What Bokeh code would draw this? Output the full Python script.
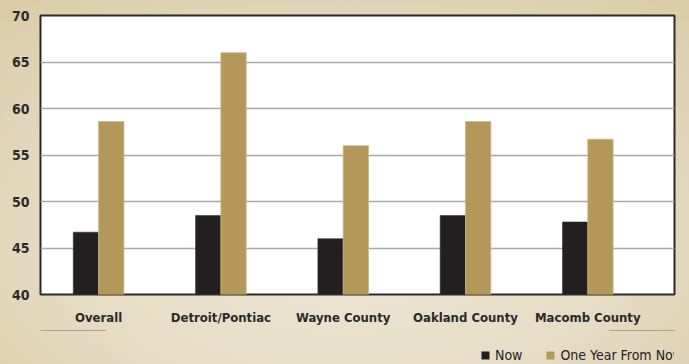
from bokeh.plotting import figure
from bokeh.layouts import column
from bokeh.models import (ColumnDataSource, Range1d, FixedTicker, Legend, LegendItem)
from bokeh.transform import dodge
from bokeh.embed import file_html
from bokeh.resources import INLINE

# Survey index by area: now vs. expected one year from now
categories = ["Overall", "Detroit/Pontiac", "Wayne County", "Oakland County", "Macomb County"]
now = [46.7, 48.5, 46.0, 48.5, 47.8]
one_year = [58.6, 66.0, 56.0, 58.6, 56.7]
y_ticks = [40, 45, 50, 55, 60, 65, 70]
series_names = ["Now", "One Year From Now"]

FONT = "DejaVu Sans Condensed"
BLACK = "#231f20"
GOLD = "#b4985a"

positions = list(range(len(categories)))
source = ColumnDataSource(dict(pos=positions, now=now, one_year=one_year))

# main chart: fixed plot area inside a 689 x 330 canvas
p = figure(
    frame_width=634, frame_height=279,
    x_range=Range1d(-0.475, 4.709), y_range=Range1d(40, 70),
    output_backend="svg", toolbar_location=None,
    min_border_left=40, min_border_right=15, min_border_top=15, min_border_bottom=36,
)
p.border_fill_color = None
p.background_fill_color = "white"
p.outline_line_color = "#2a2a2a"
p.outline_line_width = 2

bw = 0.207
p.vbar(x=dodge("pos", -bw / 2, range=p.x_range), top="now", bottom=40, width=bw,
       source=source, fill_color=BLACK, line_color="#3a3637", line_width=0.6)
p.vbar(x=dodge("pos", bw / 2, range=p.x_range), top="one_year", bottom=40, width=bw,
       source=source, fill_color=GOLD, line_color="#cdb681", line_width=0.8)

# axes
p.xaxis.ticker = FixedTicker(ticks=positions)
p.xaxis.major_label_overrides = {i: c for i, c in enumerate(categories)}
p.yaxis.ticker = FixedTicker(ticks=y_ticks)
for ax in (p.xaxis[0], p.yaxis[0]):
    ax.axis_line_color = None
    ax.major_tick_line_color = None
    ax.minor_tick_line_color = None
    ax.major_tick_out = 0
    ax.major_tick_in = 0
    ax.major_label_text_font = FONT
    ax.major_label_text_font_style = "bold"
    ax.major_label_text_color = "#2b2929"
p.xaxis.major_label_text_font_size = "13px"
p.xaxis.major_label_standoff = 15
p.yaxis.major_label_text_font_size = "14px"
p.yaxis.major_label_standoff = 11

p.xgrid.grid_line_color = None
p.ygrid.ticker = FixedTicker(ticks=y_ticks)
p.ygrid.grid_line_color = "#a9a9a9"
p.ygrid.grid_line_width = 1.5

# legend strip underneath the chart (its plot area lines up with the chart's)
lf = figure(
    width=689, height=34, x_range=Range1d(0, 1), y_range=Range1d(0, 1),
    output_backend="svg", toolbar_location=None, min_border=0,
    x_axis_location=None, y_axis_location=None,
)
lf.grid.visible = False
lf.outline_line_color = None
lf.background_fill_color = None
lf.border_fill_color = None
# key glyphs share the series styling; their bars sit outside this strip's view
key_now = lf.vbar(x="pos", top="now", bottom=40, width=bw, source=source,
                  fill_color=BLACK, line_color=None)
key_year = lf.vbar(x="pos", top="one_year", bottom=40, width=bw, source=source,
                   fill_color=GOLD, line_color=None)

legend = Legend(
    items=[LegendItem(label=series_names[0], renderers=[key_now]),
           LegendItem(label=series_names[1], renderers=[key_year])],
    location=(440, 1), orientation="horizontal",
    padding=0, margin=0, spacing=23,
    glyph_width=10, glyph_height=10, label_height=14, label_standoff=5,
    label_text_font=FONT, label_text_font_size="14px", label_text_color="#231f20",
    background_fill_alpha=0, border_line_alpha=0,
)
lf.add_layout(legend, "center")

# warm beige page behind both parts
page = column(p, lf, spacing=0, styles={
    "background": "radial-gradient(ellipse 75% 85% at 50% 65%, #eee7d6 0%, #e7ddc6 50%, #dbcba8 100%)"
})

open("out.html", "w").write(file_html(page, INLINE))
